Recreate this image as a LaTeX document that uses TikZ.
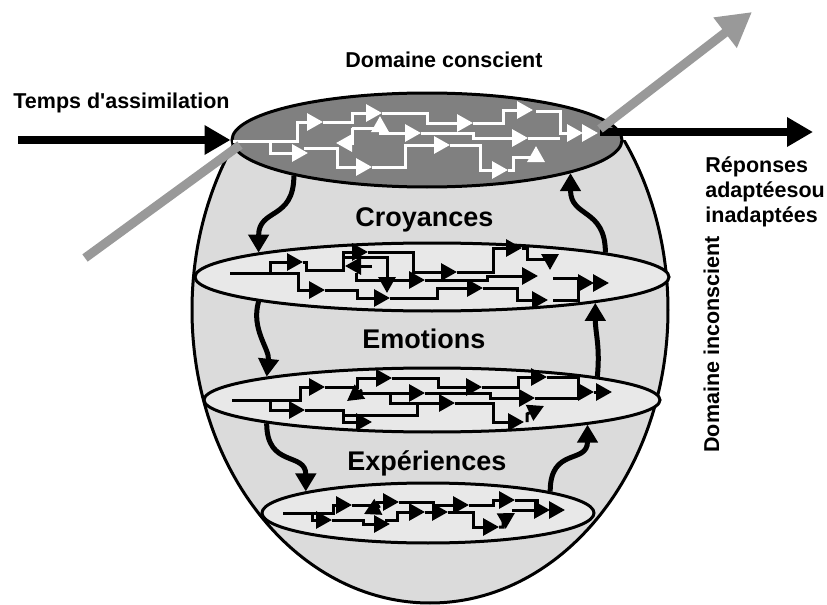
\documentclass[tikz,border=0pt]{standalone}
\usepackage{fontspec}
\setmainfont{Liberation Sans}
\usetikzlibrary{arrows.meta,shapes.geometric}
\definecolor{corps}{gray}{0.86}
\definecolor{plan}{gray}{0.91}
\definecolor{sombre}{gray}{0.5}
\definecolor{grisclair}{gray}{0.6}
\tikzset{
  couche/.style={ellipse,draw,line width=1.5pt,fill=plan,inner sep=0pt},
  fil/.style={line width=1.5pt,-{Triangle[length=8pt,width=8.5pt]}},
  filblanc/.style={fil,white},
  lien/.style={line width=2.5pt,-{Triangle[length=9pt,width=10pt]}},
  grosse/.style={line width=4pt,-{Triangle[length=13pt,width=14pt]}},
  grise/.style={grisclair,line width=4.5pt,-{Triangle[length=17pt,width=18pt]}},
  etiquette/.style={font=\bfseries\fontsize{10.75}{12.5}\selectfont,inner sep=0pt},
  titre/.style={font=\bfseries\fontsize{13.5}{16}\selectfont,inner sep=0pt}
}
\begin{document}
\begin{tikzpicture}[x=0.5pt,y=-0.5pt]
\useasboundingbox (0,0) rectangle (827,605);
% corps de l'oeuf
\begin{scope}
\clip (0,140) rectangle (827,605);
\filldraw[draw=black,fill=corps,line width=1.5pt] (430,310) ellipse [x radius=238,y radius=293];
\end{scope}
% plans
\node[couche,minimum width=237pt,minimum height=34pt] (croy) at (432,277) {};
\node[couche,minimum width=228pt,minimum height=32pt] (emo) at (432,400) {};
\node[couche,minimum width=166pt,minimum height=30pt] (exper) at (428,513) {};
\node[couche,fill=sombre,minimum width=195pt,minimum height=47pt] (haut) at (427,140) {};
% reseau conscient
\draw[filblanc] (233,141) -- (297,141) |- (323,122);
\draw[filblanc] (323,122) -- (352,122) |- (382,113);
\draw[filblanc] (382,113) -- (427,113) |- (473,123);
\draw[filblanc] (473,123) -| (503,110) -- (533,110);
\draw[filblanc] (536,111) -| (560,133) -- (583,133);
\draw[filblanc] (583,133) -- (598,133);
\draw[filblanc] (270,141) |- (308,153);
\draw[filblanc] (304,148) -- (337,148) |- (372,167);
\draw[filblanc] (372,167) -- (405,167) |- (450,145);
\draw[filblanc] (450,145) -- (480,145) |- (508,170);
\draw[filblanc] (508,170) -| (513,157) -| (536,146);
\draw[filblanc] (352,128) -- (352,143) -- (336,143);
\draw[filblanc] (352,128) -- (380,128) -- (380,133) -- (421,133);
\draw[filblanc] (421,133) -- (473,133) |- (528,138);
\draw[filblanc,-] (528,138) -- (560,138);
\draw[filblanc] (380,133) -- (380,116);
% reseau croyances
\draw[fil] (230,273) -| (270,262) -- (303,262);
\draw[fil] (303,262) -- (306,262) -- (306,270) -- (343,270) |- (368,252);
\draw[fil] (343,257) -| (387,293);
\draw[fil] (368,252) -- (413,252) |- (457,272);
\draw[fil] (457,272) -| (493,248) -- (522,248);
\draw[fil] (522,248) -- (527,248) |- (550,259) -- (550,270);
\draw[fil] (356,273) -- (356,280) -- (425,280);
\draw[fil] (372,266) -- (345,266);
\draw[fil] (425,280) -- (487,280) -- (487,276) -- (538,276);
\draw[fil] (553,278) -- (578,278) |- (594,283);
\draw[fil] (594,283) -- (609,283);
\draw[fil,-] (553,300) -- (578,300) -- (578,283);
\draw[fil] (270,273) -- (298,273) |- (325,290);
\draw[fil] (325,290) -- (357,290) |- (390,298);
\draw[fil] (390,298) -- (437,298) |- (483,288);
\draw[fil] (483,288) -- (517,288) |- (548,300);
% reseau emotions
\draw[fil] (232,400) -| (300,387) -- (325,387);
\draw[fil] (325,387) -- (357,387) |- (392,378);
\draw[fil] (392,378) -- (438,378) |- (482,387);
\draw[fil] (482,387) -- (518,387) |- (547,377);
\draw[fil] (547,377) -- (578,377) |- (594,392);
\draw[fil] (594,392) -- (612,392);
\draw[fil] (270,400) |- (305,410);
\draw[fil] (305,410) -- (343,410) |- (372,422);
\draw[fil] (357,393) -- (425,393);
\draw[fil] (425,393) -- (490,393) |- (535,398);
\draw[fil] (390,393) |- (455,403);
\draw[fil] (455,403) -- (493,403) |- (524,422);
\draw[fil] (527,422) -- (527,414) -- (544,406);
\draw[fil,-] (343,415) -- (417,415) -- (417,403);
\draw[fil,-] (535,398) -- (578,398) -- (578,392);
\draw[fil] (362,390) -- (347,401);
% reseau experiences
\draw[fil] (283,513) -- (312,513) |- (332,520);
\draw[fil] (312,513) -- (333,513) |- (352,505);
\draw[fil] (352,505) -- (377,505) |- (399,502);
\draw[fil] (399,502) -- (433,502) |- (469,505);
\draw[fil] (469,505) -- (493,505) |- (515,500);
\draw[fil] (515,500) -- (537,500) |- (550,510);
\draw[fil] (550,510) -- (565,510);
\draw[fil] (332,520) -- (363,520) |- (390,524);
\draw[fil] (385,520) -- (397,520) |- (425,512);
\draw[fil] (425,512) -- (448,512);
\draw[fil] (448,512) -- (473,512) |- (499,527);
\draw[fil] (499,527) -- (503,527) -- (503,520) -- (515,513);
\draw[fil,-] (512,510) -- (537,510);
\draw[fil] (380,506) -- (364,514);
% liens entre les plans
\draw[lien] (haut.195) .. controls +(0,45) and +(0,-45) .. (croy.172);
\draw[lien] (croy.188) .. controls +(-8,28) and +(3,-28) .. (emo.172);
\draw[lien] (emo.188) .. controls +(0,45) and +(0,-40) .. (exper.170);
\draw[lien] (exper.10) .. controls +(0,-45) and +(0,40) .. (emo.351);
\draw[lien] (emo.8) .. controls +(3,-30) and +(0,30) .. (croy.351);
\draw[lien] (croy.8) .. controls +(0,-45) and +(0,45) .. (haut.347);
% fleches
\coordinate (entree) at (18,140);
\coordinate (depart) at (600,132);
\coordinate (sortie) at (813,132);
\coordinate (g1) at (85,258);
\coordinate (g2) at (240,145);
\coordinate (g3) at (600,129);
\coordinate (g4) at (752,12);
\draw[grosse] (entree) -- (haut.west);
\draw[grosse] (depart) -- (sortie);
\draw[grisclair,line width=4.5pt] (g1) -- (g2);
\draw[grise] (g3) -- (g4);
% textes
\node[etiquette,anchor=base west] (temps) at (13,108) {Temps d\textquotesingle assimilation};
\node[etiquette,anchor=base west] (conscient) at (345,68) {Domaine conscient};
\node[titre,anchor=base west] (croyances) at (355,227) {Croyances};
\node[titre,anchor=base west] (emotions) at (362,349) {Emotions};
\node[titre,anchor=base west] (experiences) at (347,470) {Expériences};
\node[etiquette,anchor=north west,align=left] (reponses) at (705,156) {Réponses\\adaptéesou\\inadaptées};
\node[etiquette,rotate=90,anchor=base west] (inconscient) at (719,453) {Domaine inconscient};
\end{tikzpicture}
\end{document}
